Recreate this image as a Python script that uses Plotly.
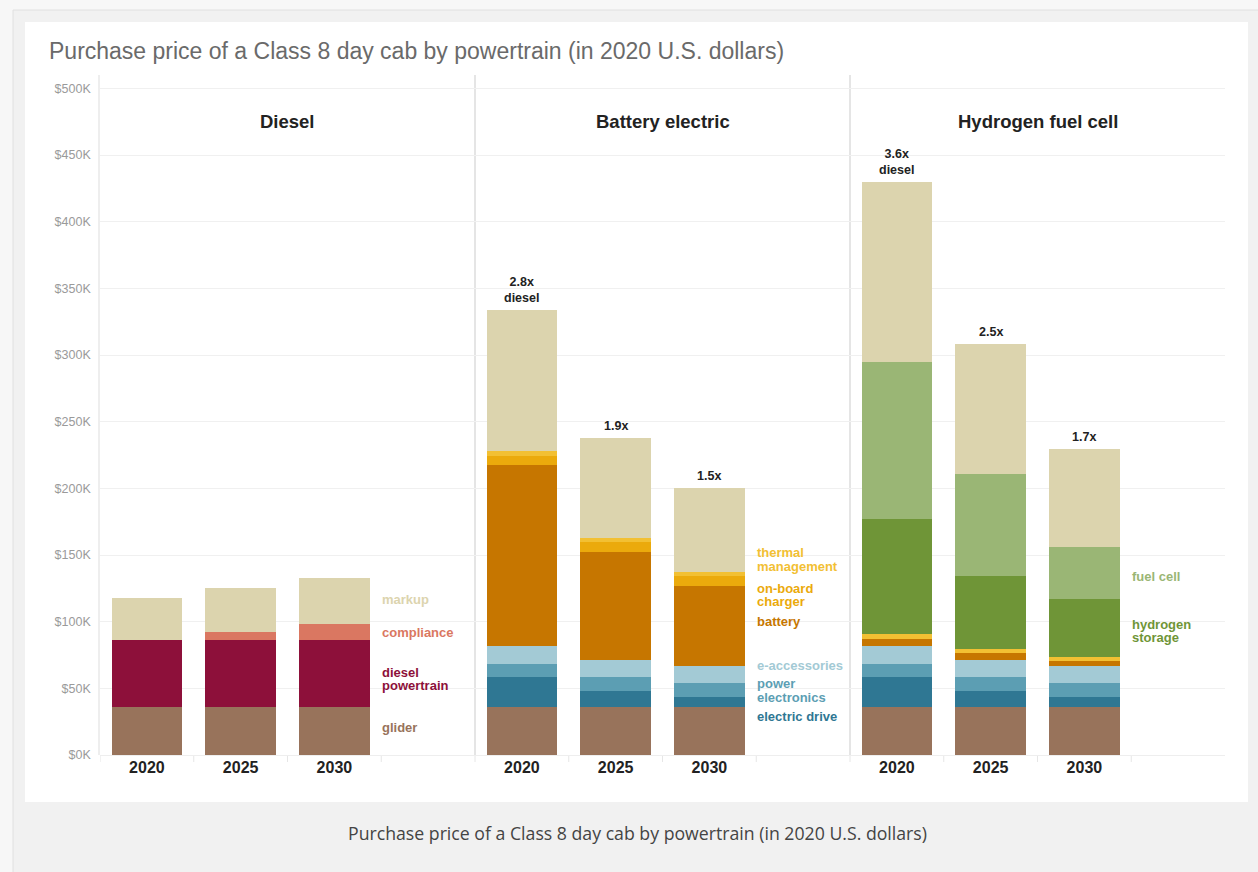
import plotly.graph_objects as go

# ---------------- data (thousand 2020 USD) ----------------
panels = ["Diesel", "Battery electric", "Hydrogen fuel cell"]
years = ["2020", "2025", "2030"]
# bar order: Diesel 2020/2025/2030, BEV 2020/2025/2030, FCEV 2020/2025/2030
glider = [36, 36, 36, 36, 36, 36, 36, 36, 36]
diesel_powertrain = [50, 50, 50, None, None, None, None, None, None]
electric_drive = [None, None, None, 22.5, 12, 7.5, 22.5, 12, 7.5]
power_electronics = [None, None, None, 9.5, 10.5, 10.3, 9.5, 10.5, 10.3]
e_accessories = [None, None, None, 13.5, 12.7, 13.3, 13.5, 12.7, 13.3]
battery = [None, None, None, 136, 81.3, 60, 5.5, 5, 3.5]
onboard_charger = [None, None, None, 7, 7.4, 7.5, None, None, None]
thermal_management = [None, None, None, 3.5, 3, 2.3, 4, 3.3, 3]
hydrogen_storage = [None, None, None, None, None, None, 86, 55, 43.7]
fuel_cell = [None, None, None, None, None, None, 117.4, 75.9, 39]
compliance = [None, 6, 12, None, None, None, None, None, None]
markup = [31.5, 33, 34.5, 105.6, 75, 63, 135, 97.5, 73]

ratio_labels = ["2.8x<br>diesel", "1.9x", "1.5x", "3.6x<br>diesel", "2.5x", "1.7x"]

# ---------------- styles ----------------
series = [
    ("glider", glider, "#98735B"),
    ("diesel powertrain", diesel_powertrain, "#8D103A"),
    ("electric drive", electric_drive, "#2F7793"),
    ("power electronics", power_electronics, "#5C9EB3"),
    ("e-accessories", e_accessories, "#A3CAD5"),
    ("battery", battery, "#C67600"),
    ("on-board charger", onboard_charger, "#EBAA0C"),
    ("thermal management", thermal_management, "#F2C033"),
    ("hydrogen storage", hydrogen_storage, "#6F9537"),
    ("fuel cell", fuel_cell, "#9AB675"),
    ("compliance", compliance, "#DA7761"),
    ("markup", markup, "#DCD4AE"),
]
colors = {name: c for name, _, c in series}

# label placement (panel index, series key, display text, y in K) -- layout only
series_labels = [
    (0, "markup", "markup", 117),
    (0, "compliance", "compliance", 92),
    (0, "diesel powertrain", "diesel<br>powertrain", 57),
    (0, "glider", "glider", 21),
    (1, "thermal management", "thermal<br>management", 146.5),
    (1, "on-board charger", "on-board<br>charger", 120),
    (1, "battery", "battery", 100.4),
    (1, "e-accessories", "e-accessories", 67.5),
    (1, "power electronics", "power<br>electronics", 48.4),
    (1, "electric drive", "electric drive", 29.2),
    (2, "fuel cell", "fuel cell", 134.2),
    (2, "hydrogen storage", "hydrogen<br>storage", 93),
]
LABEL_LINE_PX = 13.5

SLOTS = 4
xpos = [p * SLOTS + i for p in range(len(panels)) for i in range(len(years))]

FONT = "Liberation Sans, Arial, Helvetica, sans-serif"

fig = go.Figure()
for name, vals, col in series:
    fig.add_trace(go.Bar(
        x=xpos, y=vals, name=name, width=0.75,
        marker=dict(color=col, line=dict(width=0)),
        hovertemplate=name + ": $%{y}K<extra></extra>",
    ))

# totals for ratio annotations
n = len(xpos)
totals = [sum(v[i] for _, v, _ in series if v[i] is not None) for i in range(n)]

annotations = []
for k, txt in enumerate(ratio_labels):
    i = 3 + k
    annotations.append(dict(
        x=xpos[i], y=totals[i], xref="x", yref="y", text="<b>" + txt + "</b>",
        showarrow=False, yanchor="bottom", yshift=3,
        font=dict(family=FONT, size=12.5, color="#222222"),
    ))

for p, key, txt, yv in series_labels:
    lines = txt.split("<br>")
    for j, line in enumerate(lines):
        shift = ((len(lines) - 1) / 2 - j) * LABEL_LINE_PX
        annotations.append(dict(
            x=p * SLOTS + 2.49, y=yv, xref="x", yref="y", text="<b>" + line + "</b>",
            showarrow=False, xanchor="left", yanchor="middle", align="left", yshift=shift,
            font=dict(family=FONT, size=13, color=colors[key]),
        ))

# geometry helpers (plot area: x 100..1225, y 75..755 px)
L, R, T, B = 100, 1225, 75, 755
def px(xp):
    return (xp - L) / (R - L)
def py(yp):
    return (B - yp) / (B - T)

for p, name in enumerate(panels):
    annotations.append(dict(
        x=p * SLOTS + 1.5, y=py(122), xref="x", yref="paper",
        text="<b>" + name + "</b>", showarrow=False, yanchor="middle",
        font=dict(family=FONT, size=18.5, color="#222222"),
    ))

annotations.append(dict(
    x=px(47), y=py(51), xref="paper", yref="paper", xanchor="left", yanchor="middle",
    text="Purchase price of a Class 8 day cab by powertrain (in 2020 U.S. dollars)",
    showarrow=False, font=dict(family=FONT, size=23, color="#6a6a6a"),
))
annotations.append(dict(
    x=px(637), y=py(833), xref="paper", yref="paper", xanchor="center", yanchor="middle",
    text="Purchase price of a Class 8 day cab by powertrain (in 2020 U.S. dollars)",
    showarrow=False, font=dict(family="Open Sans, sans-serif", size=17.7, color="#444444"),
))

shapes = [
    # outer frame
    dict(type="rect", xref="paper", yref="paper", x0=px(13), x1=px(1262), y0=py(880), y1=py(10),
         fillcolor="#f1f1f1", line=dict(color="#e0e0e0", width=1), layer="below"),
    # white card
    dict(type="rect", xref="paper", yref="paper", x0=px(25), x1=px(1248), y0=py(802), y1=py(22),
         fillcolor="#ffffff", line=dict(width=0), layer="below"),
]
# panel dividers
for p in range(1, len(panels)):
    shapes.append(dict(type="line", xref="x", yref="paper", x0=p * SLOTS - 0.5, x1=p * SLOTS - 0.5,
                       y0=0, y1=1, line=dict(color="#dddddd", width=1.5), layer="below"))
# small slot ticks below baseline
for s in range(len(panels) * SLOTS):
    shapes.append(dict(type="line", xref="x", yref="paper", x0=s - 0.5, x1=s - 0.5,
                       y0=py(762), y1=0, line=dict(color="#e6e6e6", width=1), layer="below"))

fig.update_layout(
    width=1258, height=872,
    margin=dict(l=L, r=1258 - R, t=T, b=872 - B, pad=0),
    paper_bgcolor="#f7f7f7", plot_bgcolor="rgba(0,0,0,0)",
    barmode="stack", bargap=0, showlegend=False,
    annotations=annotations, shapes=shapes,
    font=dict(family=FONT),
)
fig.update_xaxes(
    range=[-0.5, len(panels) * SLOTS - 0.5],
    tickvals=xpos, ticktext=["<b>" + years[i % 3] + "</b>" for i in range(n)],
    tickfont=dict(family=FONT, size=16, color="#222222"),
    showgrid=False, zeroline=False, showline=False, ticks="", ticklabelstandoff=1,
)
fig.update_yaxes(
    range=[0, 510], dtick=50, tick0=0, tickprefix="$", ticksuffix="K",
    tickfont=dict(family=FONT, size=12.5, color="#9a9a9a"),
    showgrid=True, gridcolor="#f0f0f0", gridwidth=1,
    zeroline=True, zerolinecolor="#eeeeee", zerolinewidth=1,
    showline=True, linecolor="#eeeeee", linewidth=1.5,
    ticks="", ticklabelstandoff=5,
)

fig.write_html("out.html", config={"displayModeBar": False},
               post_script="document.body.style.margin='0';")
